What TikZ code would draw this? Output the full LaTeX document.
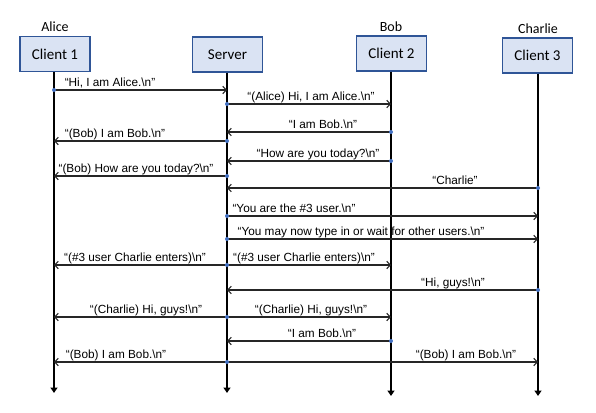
\documentclass[tikz,border=0pt]{standalone}
\usepackage{fontspec}
\setmainfont{Carlito}
\newfontfamily\msgfont{Liberation Sans}
\usetikzlibrary{arrows.meta}
\definecolor{boxfill}{HTML}{DAE3F3}
\definecolor{boxline}{HTML}{2F5597}
\definecolor{dotblue}{HTML}{4472C4}
\tikzset{
 entity/.style={draw=boxline,fill=boxfill,line width=1.3pt,minimum width=70pt,minimum height=35pt,inner sep=0pt,font=\fontsize{15}{17}\selectfont},
 who/.style={inner sep=0pt,font=\fontsize{14}{16}\selectfont},
 life/.style={line width=1.4pt,-{Triangle[width=7pt,length=5.5pt]}},
 msg/.style={line width=1.1pt,draw=black!85,-{Straight Barb[length=3.5pt,width=7.5pt]}},
 txt/.style={anchor=base,inner sep=0pt,font=\msgfont\fontsize{11.8}{13}\selectfont},
 sendpt/.style={circle,fill=dotblue,inner sep=0pt,minimum size=4pt},
}
\begin{document}
\begin{tikzpicture}[x=1pt,y=-1pt]
 \useasboundingbox (0,0) rectangle (596,412);
 % participants
 \node (c1) at (55,54) [entity] {Client 1};
 \node (srv) at (227.5,54.5) [entity] {Server};
 \node (c2) at (391.5,53.5) [entity] {Client 2};
 \node (c3) at (537.5,55.5) [entity] {Client 3};
 \node (alice) at (55,27) [who] {Alice};
 \node (bob) at (391,27) [who] {Bob};
 \node (charlie) at (538,28.5) [who] {Charlie};
 % lifelines
 \coordinate (c1 end) at (54,393);
 \coordinate (srv end) at (227,393);
 \coordinate (c2 end) at (391,396);
 \coordinate (c3 end) at (538,396);
 \draw[life] (c1.south -| c1 end) -- (c1 end);
 \draw[life] (srv.south -| srv end) -- (srv end);
 \draw[life] (c2.south -| c2 end) -- (c2 end);
 \draw[life] (c3.south -| c3 end) -- (c3 end);
 % points on the lifelines, one row per message
 \foreach \r/\y in {1/90,2/104,3/132,4/141,5/161,6/176,7/188,8/216,9/239,10/265,11/290,12/317,13/341,14/362}{
  \coordinate (c1 \r) at (54,\y);
  \coordinate (srv \r) at (227,\y);
  \coordinate (c2 \r) at (391,\y);
  \coordinate (c3 \r) at (538,\y);
 }
 % messages
 \draw[msg] (c1 1) -- (srv 1);
 \node (t1) at (110,86) [txt] {“Hi, I am Alice.\textbackslash n”};
 \draw[msg] (srv 2) -- (c2 2);
 \node (t2) at (311,100) [txt] {“(Alice) Hi, I am Alice.\textbackslash n”};
 \draw[msg] (c2 3) -- (srv 3);
 \node (t3) at (323,128) [txt] {“I am Bob.\textbackslash n”};
 \draw[msg] (srv 4) -- (c1 4);
 \node (t4) at (115,137) [txt] {“(Bob) I am Bob.\textbackslash n”};
 \draw[msg] (c2 5) -- (srv 5);
 \node (t5) at (318,157) [txt] {“How are you today?\textbackslash n”};
 \draw[msg] (srv 6) -- (c1 6);
 \node (t6) at (136,172) [txt] {“(Bob) How are you today?\textbackslash n”};
 \draw[msg] (c3 7) -- (srv 7);
 \node (t7) at (455,184) [txt] {“Charlie”};
 \draw[msg] (srv 8) -- (c3 8);
 \node (t8) at (294,212) [txt] {“You are the \#3 user.\textbackslash n”};
 \draw[msg] (srv 9) -- (c3 9);
 \node (t9) at (361,235) [txt] {“You may now type in or wait for other users.\textbackslash n”};
 \draw[msg] (srv 10) -- (c1 10);
 \node (t10a) at (135,261) [txt] {“(\#3 user Charlie enters)\textbackslash n”};
 \draw[msg] (srv 10) -- (c2 10);
 \node (t10b) at (304,261) [txt] {“(\#3 user Charlie enters)\textbackslash n”};
 \draw[msg] (c3 11) -- (srv 11);
 \node (t11) at (453,286) [txt] {“Hi, guys!\textbackslash n”};
 \draw[msg] (srv 12) -- (c1 12);
 \node (t12a) at (146,313) [txt] {“(Charlie) Hi, guys!\textbackslash n”};
 \draw[msg] (srv 12) -- (c2 12);
 \node (t12b) at (311,313) [txt] {“(Charlie) Hi, guys!\textbackslash n”};
 \draw[msg] (c2 13) -- (srv 13);
 \node (t13) at (322,337) [txt] {“I am Bob.\textbackslash n”};
 \draw[msg] (srv 14) -- (c1 14);
 \node (t14a) at (116,358) [txt] {“(Bob) I am Bob.\textbackslash n”};
 \draw[msg] (srv 14) -- (c3 14);
 \node (t14b) at (466,358) [txt] {“(Bob) I am Bob.\textbackslash n”};
 % sending points
 \foreach \p in {c1 1,srv 2,c2 3,srv 4,c2 5,srv 6,c3 7,srv 8,srv 9,srv 10,c3 11,srv 12,c2 13,srv 14}
  \node at (\p) [sendpt] {};
\end{tikzpicture}
\end{document}
